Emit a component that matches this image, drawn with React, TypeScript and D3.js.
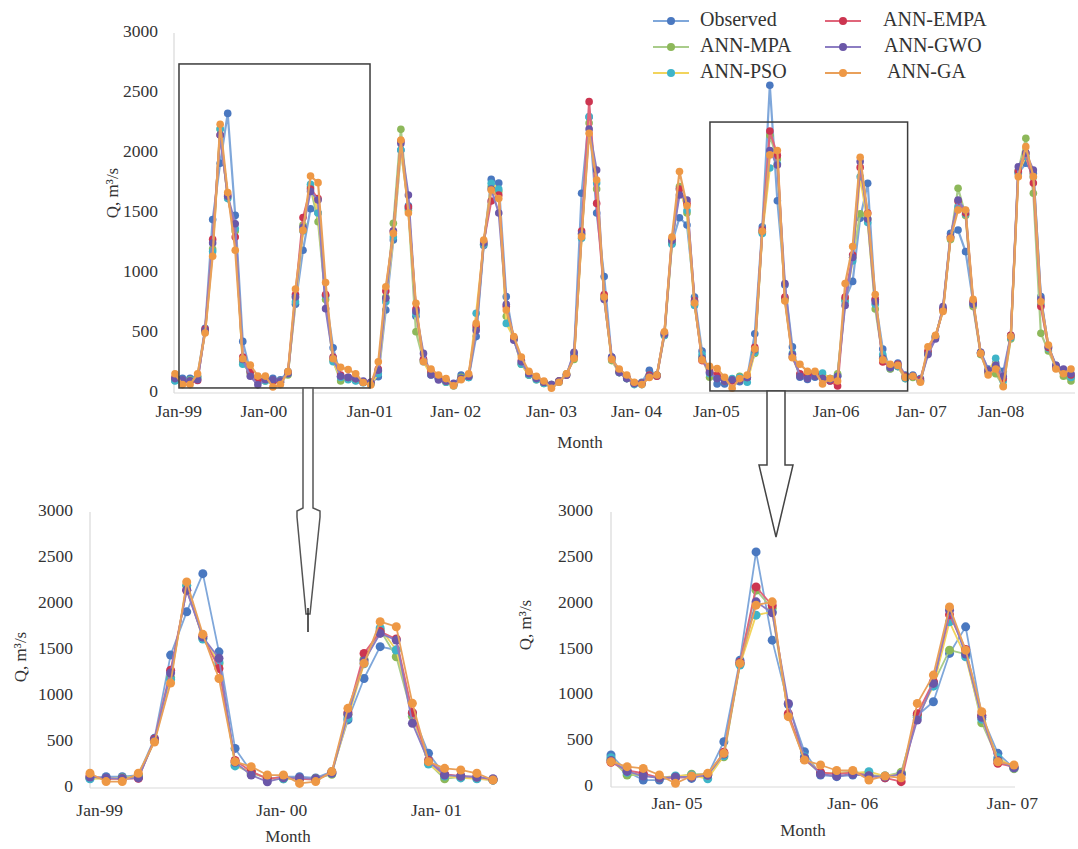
import React from "react";
import * as d3 from "d3";

// ---- DATA (monthly discharge, Jan-99 .. Dec-08, m3/s) ----
const observed = [
  105, 123, 123, 140, 540, 1445, 1915, 2330, 1480, 430, 178, 100,
  123, 123, 110, 178, 740, 1190, 1536, 1500, 810, 377, 140, 123,
  105, 87, 80, 136, 692, 1275, 2025, 1560, 640, 280, 160, 120,
  100, 70, 150, 130, 470, 1230, 1780, 1750, 803, 450, 250, 150,
  120, 90, 70, 100, 150, 330, 1664, 2300, 1500, 970, 300, 180,
  130, 80, 90, 190, 150, 500, 1250, 1460, 1400, 800, 349, 167,
  76, 76, 113, 94, 130, 494, 1384, 2565, 1602, 900, 385, 131,
  113, 131, 130, 100, 150, 780, 930, 1457, 1747, 780, 367, 203,
  250, 150, 150, 120, 330, 470, 700, 1330, 1358, 1178, 760, 340,
  200, 250, 180, 480, 1830, 1914, 1830, 803, 380, 230, 180, 130,
];
const annMPA = [
  110, 100, 110, 130, 520, 1200, 2200, 1627, 1350, 250, 160, 110,
  100, 100, 100, 150, 800, 1400, 1717, 1427, 780, 270, 100, 120,
  110, 90, 80, 180, 800, 1414, 2197, 1520, 511, 270, 160, 120,
  90, 60, 130, 140, 540, 1240, 1720, 1680, 640, 455, 240, 150,
  110, 80, 70, 100, 160, 280, 1320, 2250, 1700, 800, 270, 170,
  120, 80, 80, 140, 150, 480, 1250, 1720, 1500, 740, 300, 131,
  131, 100, 110, 140, 140, 330, 1340, 2147, 1950, 780, 300, 150,
  150, 170, 130, 120, 160, 780, 1130, 1493, 1450, 700, 300, 200,
  220, 120, 130, 100, 340, 470, 690, 1280, 1706, 1480, 720, 320,
  170, 160, 60, 450, 1850, 2122, 1664, 497, 350, 210, 140, 100,
];
const annPSO = [
  100, 105, 105, 120, 510, 1180, 2200, 1620, 1370, 240, 180, 100,
  100, 100, 90, 160, 760, 1350, 1740, 1500, 811, 260, 130, 110,
  100, 85, 75, 160, 760, 1300, 2025, 1540, 660, 260, 150, 115,
  90, 60, 120, 130, 664, 1240, 1747, 1700, 580, 460, 240, 150,
  110, 80, 60, 90, 150, 310, 1290, 2303, 1750, 790, 280, 170,
  120, 70, 70, 150, 140, 480, 1240, 1700, 1520, 730, 320, 160,
  130, 100, 120, 130, 90, 340, 1330, 1875, 1911, 790, 330, 150,
  150, 150, 167, 120, 140, 760, 1100, 1802, 1420, 740, 320, 210,
  220, 120, 140, 100, 340, 470, 700, 1300, 1550, 1490, 740, 330,
  170, 289, 100, 460, 1840, 1970, 1800, 740, 370, 220, 170, 130,
];
const annEMPA = [
  130, 100, 100, 105, 530, 1280, 2150, 1650, 1300, 300, 180, 100,
  120, 100, 90, 170, 820, 1463, 1700, 1620, 820, 300, 150, 130,
  120, 90, 90, 200, 850, 1350, 2100, 1550, 700, 280, 180, 130,
  100, 70, 120, 140, 560, 1260, 1600, 1650, 720, 460, 270, 170,
  130, 90, 60, 100, 150, 300, 1350, 2428, 1580, 820, 290, 180,
  130, 80, 80, 150, 140, 500, 1280, 1700, 1580, 770, 270, 180,
  150, 100, 100, 110, 130, 380, 1360, 2183, 1980, 800, 300, 160,
  140, 160, 120, 100, 58, 800, 1150, 1880, 1500, 780, 258, 220,
  240, 140, 140, 110, 350, 460, 700, 1300, 1600, 1500, 760, 330,
  180, 220, 120, 480, 1850, 2000, 1750, 720, 380, 220, 170, 150,
];
const annGWO = [
  120, 110, 100, 110, 520, 1250, 2150, 1640, 1410, 280, 140, 68,
  110, 110, 100, 160, 800, 1380, 1680, 1608, 703, 290, 140, 130,
  120, 100, 90, 190, 789, 1350, 2080, 1650, 680, 330, 150, 108,
  100, 80, 120, 140, 520, 1250, 1700, 1500, 740, 440, 260, 160,
  120, 90, 70, 100, 150, 340, 1330, 2200, 1858, 780, 300, 170,
  120, 80, 80, 140, 150, 490, 1270, 1650, 1608, 760, 290, 170,
  120, 100, 110, 110, 130, 360, 1350, 2020, 1900, 912, 320, 140,
  120, 140, 120, 110, 140, 730, 1130, 1929, 1450, 760, 290, 210,
  230, 130, 140, 100, 320, 450, 720, 1300, 1608, 1520, 740, 340,
  190, 230, 140, 470, 1886, 2000, 1858, 780, 390, 230, 200, 160,
];
const annGA = [
  160, 70, 70, 160, 500, 1140, 2240, 1670, 1190, 286, 232, 141,
  141, 50, 70, 178, 866, 1355, 1808, 1753, 920, 286, 214, 196,
  160, 87, 67, 261, 886, 1330, 2108, 1500, 747, 260, 200, 150,
  120, 60, 110, 160, 580, 1275, 1692, 1620, 692, 470, 300, 180,
  140, 100, 39, 90, 160, 290, 1303, 2164, 1775, 800, 280, 200,
  150, 90, 70, 130, 150, 510, 1300, 1845, 1560, 750, 276, 222,
  203, 131, 40, 120, 149, 367, 1348, 1984, 2020, 767, 294, 240,
  180, 180, 76, 120, 100, 912, 1221, 1965, 1493, 821, 276, 240,
  230, 130, 140, 90, 386, 480, 680, 1290, 1525, 1525, 780, 330,
  150, 200, 53, 470, 1803, 2053, 1803, 761, 400, 200, 160, 200,
];

const seriesNames = ["Observed", "ANN-MPA", "ANN-PSO", "ANN-EMPA", "ANN-GWO", "ANN-GA"];
const seriesValues = [observed, annMPA, annPSO, annEMPA, annGWO, annGA];
const lineColors = ["#7FA7DA", "#A9CC8A", "#F2D45C", "#E0657A", "#8C7DC2", "#E9A05A"];
const markerColors = ["#4A78C0", "#8DB85A", "#3FB4C8", "#CC3550", "#6B57A8", "#EE9845"];

const yTicks = [0, 500, 1000, 1500, 2000, 2500, 3000];

const topTickLabels = ["Jan-99", "Jan-00", "Jan-01", "Jan- 02", "Jan- 03", "Jan- 04", "Jan-05", "Jan-06", "Jan- 07", "Jan-08"];
const topTickPos = [0.5, 11.8, 25.9, 37.3, 50, 61.3, 71.9, 87.8, 99.1, 109.7];

const leftStart = 0;
const leftCount = 26;
const leftTickLabels = ["Jan-99", "Jan- 00", "Jan- 01"];
const leftTickPos = [0.6, 11.9, 21.5];

const rightStart = 70;
const rightCount = 26;
const rightTickLabels = ["Jan- 05", "Jan- 06", "Jan- 07"];
const rightTickPos = [4.1, 15, 24.9];

// zoom windows on the top chart: [start index, end index, low value, high value]
const leftWindow = [0.53, 25.9, 42, 2742];
const rightWindow = [71.05, 97.3, 17, 2258];

const FONT = "'Liberation Serif', 'Times New Roman', serif";
const TEXT = "#333";

type PanelProps = {
  start: number;
  count: number;
  x0: number;
  x1: number;
  yB: number;
  yT: number;
  axisX: number;
  axisEnd: number;
  tickRight: number;
  tickPos: number[];
  tickLabels: string[];
  tickY: number;
  monthX: number;
  monthY: number;
  qX: number;
  qY: number;
  lw: number;
  r: number;
};

function Panel(p: PanelProps) {
  const x = d3.scaleLinear().domain([0, p.count - 1]).range([p.x0, p.x1]);
  const y = d3.scaleLinear().domain([0, 3000]).range([p.yB, p.yT]);
  const line = d3
    .line<number>()
    .x((_, i) => x(i))
    .y((d) => y(d));
  return (
    <g>
      <line x1={p.axisX} x2={p.axisX} y1={y(3000)} y2={y(0)} stroke="#d9d9d9" strokeWidth={1.2} />
      <line x1={p.axisX} x2={p.axisEnd} y1={y(0)} y2={y(0)} stroke="#d9d9d9" strokeWidth={1.2} />
      {yTicks.map((t) => (
        <text key={t} x={p.tickRight} y={y(t)} textAnchor="end" dominantBaseline="middle" fontSize={17.5} fill={TEXT} fontFamily={FONT}>
          {t}
        </text>
      ))}
      {p.tickLabels.map((l, i) => (
        <text key={l} x={x(p.tickPos[i])} y={p.tickY} textAnchor="middle" dominantBaseline="middle" fontSize={17.5} fill={TEXT} fontFamily={FONT}>
          {l}
        </text>
      ))}
      <text x={p.monthX} y={p.monthY} textAnchor="middle" dominantBaseline="middle" fontSize={17} fill={TEXT} fontFamily={FONT}>
        Month
      </text>
      <text
        transform={`translate(${p.qX},${p.qY}) rotate(-90)`}
        textAnchor="middle"
        dominantBaseline="middle"
        fontSize={17}
        fill={TEXT}
        fontFamily={FONT}
      >
        Q, m³/s
      </text>
      {seriesValues.map((vals, s) => {
        const sub = vals.slice(p.start, p.start + p.count);
        return (
          <g key={s}>
            <path d={line(sub) || ""} fill="none" stroke={lineColors[s]} strokeWidth={p.lw} strokeLinejoin="round" />
            {sub.map((v, i) => (
              <circle key={i} cx={x(i)} cy={y(v)} r={p.r} fill={markerColors[s]} />
            ))}
          </g>
        );
      })}
    </g>
  );
}

export default function App() {
  // top-chart scales used for the zoom boxes and arrows
  const tx = d3.scaleLinear().domain([0, 119]).range([175, 1071]);
  const ty = d3.scaleLinear().domain([0, 3000]).range([393, 33]);

  const lb = {
    x: tx(leftWindow[0]),
    w: tx(leftWindow[1]) - tx(leftWindow[0]),
    y: ty(leftWindow[3]),
    h: ty(leftWindow[2]) - ty(leftWindow[3]),
  };
  const rb = {
    x: tx(rightWindow[0]),
    w: tx(rightWindow[1]) - tx(rightWindow[0]),
    y: ty(rightWindow[3]),
    h: ty(rightWindow[2]) - ty(rightWindow[3]),
  };

  // left tapered arrow
  const la = 308;
  const laTop = lb.y + lb.h;
  const leftArrow = [
    [la - 5, laTop],
    [la - 5, 508],
    [la - 11, 511],
    [la - 11, 517],
    [la - 2, 614],
    [la + 2, 614],
    [la + 12, 517],
    [la + 12, 511],
    [la + 5, 508],
    [la + 5, laTop],
  ];
  const ra = 776;
  const raTop = rb.y + rb.h;
  const rightArrow = [
    [ra - 9, raTop],
    [ra - 9, 465],
    [ra - 17, 465],
    [ra, 537],
    [ra + 17, 465],
    [ra + 9, 465],
    [ra + 9, raTop],
  ];
  const pts = (a: number[][]) => a.map((q) => q.join(",")).join(" ");

  const legendRows = [0, 1, 2];
  const legendY = [21, 47, 73];

  return (
    <svg
      width={1078}
      height={849}
      style={{ position: "absolute", left: 0, top: 0, background: "#fff" }}
      xmlns="http://www.w3.org/2000/svg"
    >
      <rect width={1078} height={849} fill="#fff" />
      <Panel
        start={0}
        count={120}
        x0={175}
        x1={1071}
        yB={393}
        yT={33}
        axisX={174}
        axisEnd={1075}
        tickRight={158}
        tickPos={topTickPos}
        tickLabels={topTickLabels}
        tickY={413}
        monthX={580}
        monthY={444}
        qX={114}
        qY={193}
        lw={2.2}
        r={3.8}
      />
      <Panel
        start={leftStart}
        count={leftCount}
        x0={90}
        x1={493}
        yB={788}
        yT={512}
        axisX={90}
        axisEnd={491}
        tickRight={73}
        tickPos={leftTickPos}
        tickLabels={leftTickLabels}
        tickY={812}
        monthX={288}
        monthY={838}
        qX={22}
        qY={657}
        lw={1.8}
        r={4.5}
      />
      <Panel
        start={rightStart}
        count={rightCount}
        x0={611}
        x1={1014}
        yB={787}
        yT={512}
        axisX={611}
        axisEnd={1015}
        tickRight={593}
        tickPos={rightTickPos}
        tickLabels={rightTickLabels}
        tickY={805}
        monthX={803}
        monthY={832}
        qX={527}
        qY={625}
        lw={1.8}
        r={4.5}
      />

      {/* zoom boxes */}
      <rect x={lb.x} y={lb.y} width={lb.w} height={lb.h} fill="none" stroke="#3c3c3c" strokeWidth={1.5} />
      <rect x={rb.x} y={rb.y} width={rb.w} height={rb.h} fill="none" stroke="#3c3c3c" strokeWidth={1.5} />

      {/* arrows */}
      <polygon points={pts(leftArrow)} fill="#fff" stroke="#555" strokeWidth={1.5} />
      <line x1={la} x2={la} y1={608} y2={632} stroke="#222" strokeWidth={1.5} />
      <polygon points={pts(rightArrow)} fill="#fff" stroke="#444" strokeWidth={1.5} />

      {/* legend */}
      {legendRows.map((r) => (
        <g key={"c1" + r}>
          <line x1={653} x2={689} y1={legendY[r]} y2={legendY[r]} stroke={lineColors[r]} strokeWidth={2} />
          <circle cx={671} cy={legendY[r]} r={4} fill={markerColors[r]} />
          <text x={700} y={legendY[r]} dominantBaseline="middle" fontSize={20} fill="#333" fontFamily={FONT}>
            {seriesNames[r]}
          </text>
        </g>
      ))}
      {legendRows.map((r) => (
        <g key={"c2" + r}>
          <line x1={825} x2={861} y1={legendY[r]} y2={legendY[r]} stroke={lineColors[r + 3]} strokeWidth={2} />
          <circle cx={843} cy={legendY[r]} r={4} fill={markerColors[r + 3]} />
          <text x={[883, 884, 887][r]} y={legendY[r]} dominantBaseline="middle" fontSize={20} fill="#333" fontFamily={FONT}>
            {seriesNames[r + 3]}
          </text>
        </g>
      ))}
    </svg>
  );
}
